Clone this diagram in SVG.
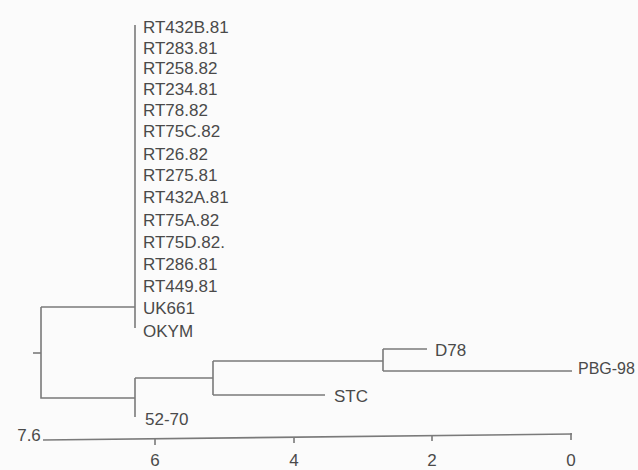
<svg xmlns="http://www.w3.org/2000/svg" width="638" height="470" viewBox="0 0 638 470">
<style>
.t{font-family:"Liberation Sans",Arial,sans-serif;font-size:17px;fill:#4a4a4a}
.e{fill:none;stroke:#7a7a7a;stroke-width:1.6}
</style>
<rect width="638" height="470" fill="#fbfbfb"/>
<g id="connectors">
<path class="e" d="M135,25 V328"/>
<path class="e" d="M135,307 H41"/>
<path class="e" d="M33,353 H41"/>
<path class="e" d="M41,307 V398 H135"/>
<path class="e" d="M135,378 V417"/>
<path class="e" d="M135,378 H213"/>
<path class="e" d="M213,361 V395"/>
<path class="e" d="M213,361 H383"/>
<path class="e" d="M383,349 V371"/>
<path class="e" d="M383,349 H427"/>
<path class="e" d="M383,371 H572"/>
<path class="e" d="M213,395 H325"/>
</g>
<g id="leaves">
<text class="t" x="143" y="33">RT432B.81</text>
<text class="t" x="143" y="53.5">RT283.81</text>
<text class="t" x="143" y="74">RT258.82</text>
<text class="t" x="143" y="95">RT234.81</text>
<text class="t" x="143" y="116">RT78.82</text>
<text class="t" x="143" y="137">RT75C.82</text>
<text class="t" x="143" y="160">RT26.82</text>
<text class="t" x="143" y="181">RT275.81</text>
<text class="t" x="143" y="203">RT432A.81</text>
<text class="t" x="143" y="226">RT75A.82</text>
<text class="t" x="143" y="248">RT75D.82.</text>
<text class="t" x="143" y="270">RT286.81</text>
<text class="t" x="143" y="292">RT449.81</text>
<text class="t" x="143" y="314">UK661</text>
<text class="t" x="143" y="337">OKYM</text>
<text class="t" x="145" y="425">52-70</text>
<text class="t" x="334" y="402">STC</text>
<text class="t" x="435" y="356">D78</text>
<text class="t" x="578" y="374" style="font-size:16px">PBG-98</text>
</g>
<g id="scale">
<path class="e" d="M43,440 L572,434"/>
<path class="e" d="M155,439 V445 M294,437 V443 M432,436 V441 M571,433 V440"/>
<text class="t" x="29" y="441" text-anchor="middle">7.6</text>
<text class="t" x="155" y="466" text-anchor="middle">6</text>
<text class="t" x="294" y="466" text-anchor="middle">4</text>
<text class="t" x="432" y="466" text-anchor="middle">2</text>
<text class="t" x="571" y="466" text-anchor="middle">0</text>
</g>
</svg>
